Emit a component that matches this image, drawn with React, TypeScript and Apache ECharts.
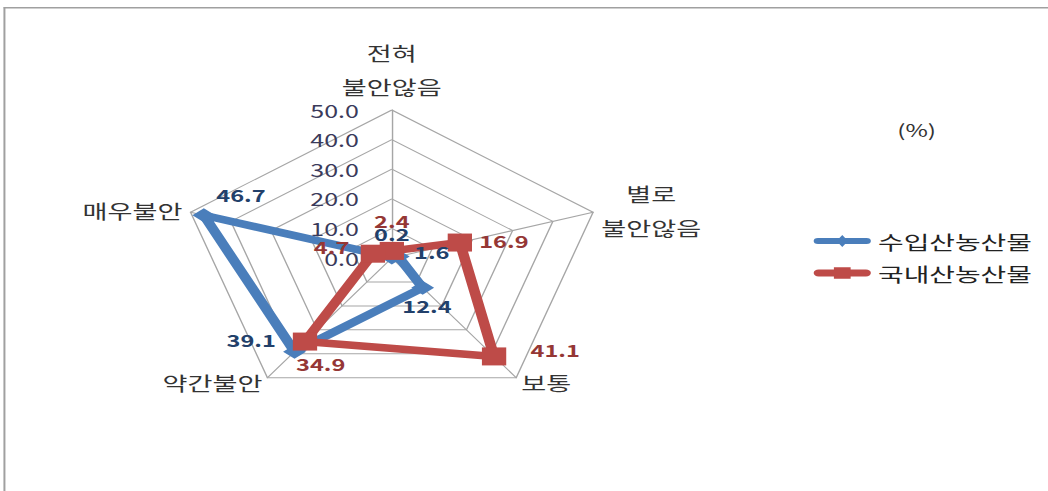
import React, { useEffect, useRef } from 'react';
import * as echarts from 'echarts';

// ---- data ----
const indicatorNames = ['전혀\n불안않음', '별로\n불안않음', '보통', '약간불안', '매우불안'];
const seriesNames = ['수입산농산물', '국내산농산물'];
const importedValues = [0.2, 1.6, 12.4, 39.1, 46.7];
const domesticValues = [2.4, 16.9, 41.1, 34.9, 4.7];
const axisMin = 0;
const axisMax = 50;
const unitText = '(%)';

// ---- label placement (style, per point in natural order) ----
const importedLabelPlace: [string, number[]][] = [
  ['top', [0, -3]],
  ['right', [-2, -5]],
  ['bottom', [3, -2]],
  ['left', [0, -12]],
  ['top', [26, 0]],
];
const domesticLabelPlace: [string, number[]][] = [
  ['top', [0, -8]],
  ['right', [0, -2]],
  ['right', [12, -7]],
  ['bottom', [11, 0]],
  ['left', [-3, -7]],
];

const FONT = '"Noto Sans CJK KR", "Noto Sans", sans-serif';
const SX = 1.43;
const BASE_W = Math.round(1048 / SX);
const BLUE = '#4A7EBB';
const RED = '#BE4B48';
const GRID = '#a6a6a6';

// ECharts lays indicators counter-clockwise; reference is clockwise
const order = [0, 4, 3, 2, 1];

export default function App() {
  const ref = useRef<HTMLDivElement>(null);
  useEffect(() => {
    const chart = echarts.init(ref.current!, null, { renderer: 'svg' });
    const reorder = (vals: number[]) => order.map((i) => vals[i]);

    const labelItems: any[] = [];
    [importedValues, domesticValues].forEach((vals, s) => {
      const place = s === 0 ? importedLabelPlace : domesticLabelPlace;
      vals.forEach((v, i) => {
        labelItems.push({
          name: `label-${s}-${i}`,
          value: reorder(vals),
          symbol: 'rect',
          symbolSize: s === 0 ? [16, 14] : [17, 18],
          itemStyle: { color: 'transparent' },
          lineStyle: { opacity: 0, width: 0 },
          label: {
            show: true,
            position: place[i][0],
            offset: place[i][1],
            distance: 5,
            color: s === 0 ? '#22406a' : '#953735',
            fontSize: 16.5,
            fontWeight: 'bold',
            fontFamily: FONT,
            formatter: (p: any) => {
              const val = Array.isArray(p.value) ? NaN : p.value;
              return val === v ? v.toFixed(1) : '';
            },
          },
        });
      });
    });

    chart.setOption({
      animation: false,
      backgroundColor: '#ffffff',
      textStyle: { fontFamily: FONT },
      graphic: [
        { type: 'rect', shape: { x: 2.6, y: 7, width: 900, height: 1.6 }, style: { fill: '#a0a0a0' }, silent: true },
        { type: 'rect', shape: { x: 2.4, y: 7, width: 1.4, height: 600 }, style: { fill: '#a0a0a0' }, silent: true },
        {
          type: 'text',
          x: 641,
          y: 130,
          style: { text: unitText, fontSize: 17, fill: '#333', align: 'center', verticalAlign: 'middle', fontFamily: FONT },
        },
      ],
      legend: {
        orient: 'vertical',
        left: 564,
        top: 225,
        itemWidth: 40,
        itemHeight: 14,
        itemGap: 10,
        textStyle: { fontSize: 19.5, color: '#222', fontFamily: FONT, lineHeight: 22 },
        data: [
          { name: seriesNames[0], icon: 'path://M3,4 L37,4 A3,3 0 0 1 37,10 L3,10 A3,3 0 0 1 3,4 Z M20,1 L24,7 L20,13 L16,7 Z' },
          { name: seriesNames[1], icon: 'path://M3,3.5 L37,3.5 A3.5,3.5 0 0 1 37,10.5 L3,10.5 A3.5,3.5 0 0 1 3,3.5 Z M14,1 L26,1 L26,13 L14,13 Z' },
        ],
      },
      radar: {
        center: [274, 258],
        radius: 148,
        startAngle: 90,
        shape: 'polygon',
        splitNumber: 5,
        nameGap: 6,
        axisName: {
          color: '#333',
          fontFamily: FONT,
          formatter: (name: string) => name.split('\n').map((s) => `{c|${s}}`).join('\n'),
          rich: { c: { fontSize: 19, lineHeight: 34, align: 'center', color: '#333', fontFamily: FONT } },
        },
        axisLine: { lineStyle: { color: GRID, width: 1 } },
        splitLine: { lineStyle: { color: GRID, width: 1 } },
        splitArea: { show: false },
        axisTick: { show: false },
        axisLabel: {
          show: true,
          fontSize: 17.5,
          color: '#3a3a5a',
          margin: 23,
          fontFamily: FONT,
          formatter: (v: number) => Number(v).toFixed(1),
        },
        indicator: order.map((i) => ({
          name: indicatorNames[i],
          min: axisMin,
          max: axisMax,
          axisLabel: { show: i === 0 },
        })),
      },
      series: [
        {
          type: 'radar',
          name: seriesNames[0],
          symbol: 'diamond',
          symbolSize: [16, 14],
          lineStyle: { width: 7.5, color: BLUE, cap: 'round', join: 'round' },
          itemStyle: { color: BLUE },
          data: [{ name: seriesNames[0], value: reorder(importedValues) }],
        },
        {
          type: 'radar',
          name: seriesNames[1],
          symbol: 'rect',
          symbolSize: [17, 18],
          lineStyle: { width: 7.5, color: RED, cap: 'round', join: 'round' },
          itemStyle: { color: RED },
          data: [{ name: seriesNames[1], value: reorder(domesticValues) }],
        },
        {
          type: 'radar',
          name: 'labels',
          silent: true,
          data: labelItems,
        },
      ],
    });
    return () => chart.dispose();
  }, []);

  return (
    <div style={{ position: 'fixed', left: 0, top: 0, width: 1048, height: 491, overflow: 'hidden', background: '#fff' }}>
      <div ref={ref} style={{ width: BASE_W, height: 491, transform: `scaleX(${SX})`, transformOrigin: '0 0' }} />
    </div>
  );
}
